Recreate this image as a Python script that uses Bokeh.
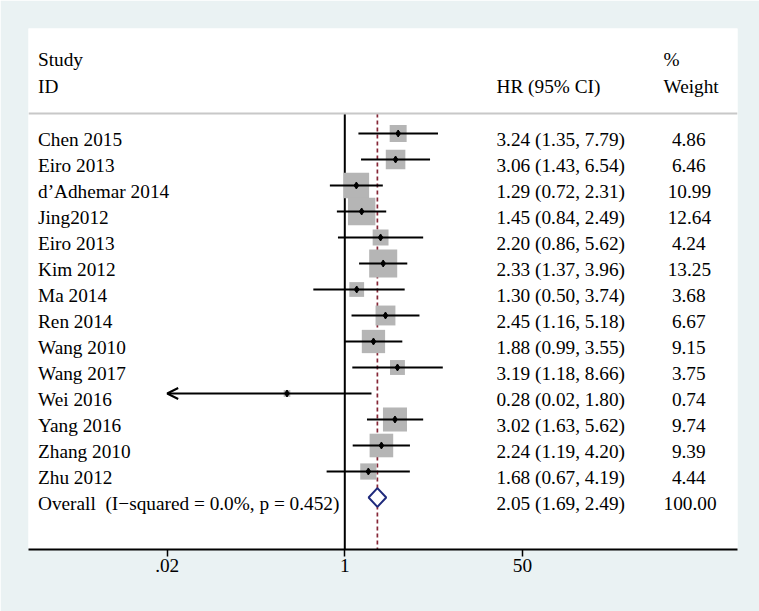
import math
from bokeh.plotting import figure
from bokeh.models import Range1d, FixedTicker, Arrow, OpenHead, Span, CustomJSTickFormatter
from bokeh.core.properties import value
from bokeh.embed import file_html
from bokeh.resources import INLINE

# ---------------- data ----------------
studies = ["Chen 2015", "Eiro 2013", "d\u2019Adhemar 2014", "Jing2012", "Eiro 2013", "Kim 2012",
           "Ma 2014", "Ren 2014", "Wang 2010", "Wang 2017", "Wei 2016", "Yang 2016",
           "Zhang 2010", "Zhu 2012"]
hr = [3.24, 3.06, 1.29, 1.45, 2.20, 2.33, 1.30, 2.45, 1.88, 3.19, 0.28, 3.02, 2.24, 1.68]
lower = [1.35, 1.43, 0.72, 0.84, 0.86, 1.37, 0.50, 1.16, 0.99, 1.18, 0.02, 1.63, 1.19, 0.67]
upper = [7.79, 6.54, 2.31, 2.49, 5.62, 3.96, 3.74, 5.18, 3.55, 8.66, 1.80, 5.62, 4.20, 4.19]
weight = [4.86, 6.46, 10.99, 12.64, 4.24, 13.25, 3.68, 6.67, 9.15, 3.75, 0.74, 9.74, 9.39, 4.44]
overall_label = "Overall\u00a0 (I\u2212squared = 0.0%, p = 0.452)"
overall_hr = 2.05
overall_lo = 1.69
overall_hi = 2.49
overall_weight = 100.00
tick_values = [0.02, 1, 50]
tick_labels = [".02", "1", "50"]
header_study = ["Study", "ID"]
header_hr = "HR (95% CI)"
header_weight = ["%", "Weight"]

# ---------------- layout constants ----------------
FONT = value("Liberation Serif")
FS = "19.3px"
BG = "#eaf2f3"
X_MIN_VAL = 0.02          # axis lower limit (CI clipped with an arrow)
X_START, X_END = -6.967, 8.650
Y_BOTTOM, Y_TOP = 16.0, -4.038
COL_STUDY = -6.758
COL_HR = 3.341
COL_W = 7.02
HEADER_LINE = -0.77
BOX_K = 7.7               # px per sqrt(weight)
SPACE_PX = 4.2            # padding per missing character in the weight column

n = len(studies)
rows = list(range(n))
overall_row = n

p = figure(frame_width=709, frame_height=521, output_backend="svg", toolbar_location=None,
           x_range=Range1d(X_START, X_END), y_range=Range1d(Y_BOTTOM, Y_TOP),
           y_axis_location=None, min_border_left=28, min_border_right=22,
           min_border_top=28, min_border_bottom=62)
p.border_fill_color = BG
p.background_fill_color = "white"
p.outline_line_color = None
p.xgrid.visible = False
p.ygrid.visible = False

# header rule
p.add_layout(Span(location=HEADER_LINE, dimension="width", line_color="#c8c8c8", line_width=2))

# null line and overall dashed line
p.segment(x0=[0.0], y0=[HEADER_LINE], x1=[0.0], y1=[Y_BOTTOM], line_color="black", line_width=2)
lx = math.log(overall_hr)
p.segment(x0=[lx], y0=[HEADER_LINE], x1=[lx], y1=[Y_BOTTOM], line_color="#862636",
          line_width=1.7, line_dash="4 3")

# weight boxes
lhr = [math.log(v) for v in hr]
sizes = [BOX_K * math.sqrt(w) for w in weight]
p.rect(x=lhr, y=rows, width=sizes, height=sizes, width_units="screen", height_units="screen",
       fill_color="#b5b5b5", line_color=None)

# CI lines (clip to axis min with arrow)
xmin_ln = math.log(X_MIN_VAL)
x0s, x1s, ys = [], [], []
for i in rows:
    lo = math.log(lower[i])
    hi = math.log(upper[i])
    if lower[i] <= X_MIN_VAL:
        p.add_layout(Arrow(end=OpenHead(size=11, line_width=2, line_color="black"),
                           x_start=hi, y_start=i, x_end=xmin_ln, y_end=i,
                           line_width=2, line_color="black"))
    else:
        x0s.append(lo); x1s.append(hi); ys.append(i)
p.segment(x0=x0s, y0=ys, x1=x1s, y1=ys, line_color="black", line_width=2)

# point estimates
p.scatter(x=lhr, y=rows, marker="diamond", size=7, fill_color="black", line_color="black")

# overall diamond
olo, ohi = math.log(overall_lo), math.log(overall_hi)
dh = 0.36
p.patch(x=[olo, lx, ohi, lx], y=[overall_row, overall_row - dh, overall_row, overall_row + dh],
        fill_color="white", line_color="#1f2a7c", line_width=2)

# texts
def txt(x, y, t, xo=0):
    p.text(x=x, y=y, text=t, x_offset=xo, y_offset=6, text_font=FONT, text_font_size=FS,
           text_baseline="alphabetic", text_align="left", text_color="black")

txt([COL_STUDY] * 2, [-3.077, -2.038], header_study)
txt([COL_HR], [-2.038], [header_hr])
txt([COL_W] * 2, [-3.077, -2.038], header_weight)

txt([COL_STUDY] * (n + 1), rows + [overall_row], studies + [overall_label])
hr_text = [f"{hr[i]:.2f} ({lower[i]:.2f}, {upper[i]:.2f})" for i in rows]
hr_text.append(f"{overall_hr:.2f} ({overall_lo:.2f}, {overall_hi:.2f})")
txt([COL_HR] * (n + 1), rows + [overall_row], hr_text)
w_all = weight + [overall_weight]
w_text = [f"{w:.2f}" for w in w_all]
w_off = [(6 - len(s)) * SPACE_PX for s in w_text]
txt([COL_W] * (n + 1), rows + [overall_row], w_text, w_off)

# x axis
ticks = [math.log(v) for v in tick_values]
p.xaxis.ticker = FixedTicker(ticks=ticks, minor_ticks=[])
p.xaxis.formatter = CustomJSTickFormatter(args=dict(vals=ticks, labs=tick_labels), code="""
let k = 0, best = 1e9;
for (let j = 0; j < vals.length; j++) { const d = Math.abs(vals[j] - tick); if (d < best) { best = d; k = j; } }
return labs[k];
""")
p.xaxis.axis_line_color = "black"
p.xaxis.axis_line_width = 2
p.xaxis.major_tick_in = 0
p.xaxis.major_tick_out = 7
p.xaxis.major_tick_line_width = 1.5
p.xaxis.minor_tick_line_color = None
p.xaxis.major_label_text_font = "Liberation Serif"
p.xaxis.major_label_text_font_size = FS
p.xaxis.major_label_text_color = "black"
p.xaxis.major_label_standoff = 2

open("out.html", "w").write(file_html(p, INLINE))
